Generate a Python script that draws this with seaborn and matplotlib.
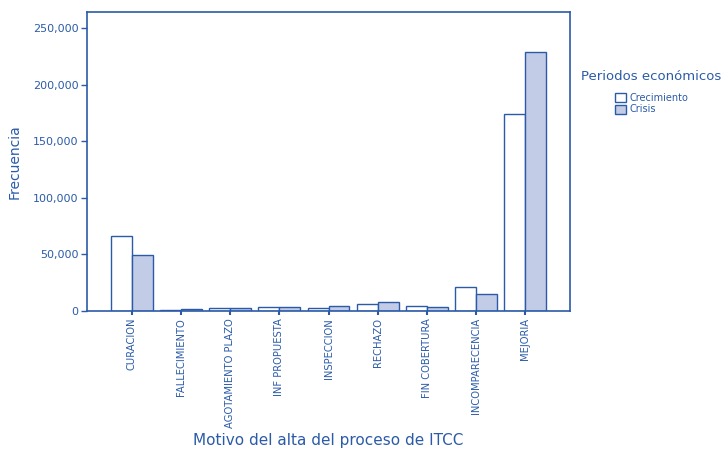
import pandas as pd
import numpy as np
import seaborn as sns
import matplotlib.pyplot as plt

# Data
motivos = ['CURACION', 'FALLECIMIENTO', 'AGOTAMIENTO PLAZO', 'INF PROPUESTA',
           'INSPECCION', 'RECHAZO', 'FIN COBERTURA', 'INCOMPARECENCIA', 'MEJORIA']
periodos = ['Crecimiento', 'Crisis']
crecimiento = [66000, 1000, 2600, 3500, 2400, 5900, 4700, 21300, 173700]
crisis = [49400, 1500, 2600, 3500, 4700, 7900, 3200, 14900, 229000]

blue = '#2b5ba8'
fills = ['#ffffff', '#c3cce6']

sns.set_theme(style='white')
plt.rcParams['font.family'] = ['DejaVu Sans']
plt.rcParams.update({
    'text.color': blue,
    'axes.labelcolor': blue,
    'xtick.color': blue,
    'ytick.color': blue,
    'axes.edgecolor': blue,
})

df = pd.DataFrame({
    'Motivo': motivos * 2,
    'Periodo': [periodos[0]] * len(motivos) + [periodos[1]] * len(motivos),
    'Frecuencia': crecimiento + crisis,
})

fig = plt.figure(figsize=(7.28, 4.5), dpi=100)
ax = fig.add_axes([0.1195, 0.309, 0.6635, 0.664])

sns.barplot(data=df, x='Motivo', y='Frecuencia', hue='Periodo',
            order=motivos, hue_order=periodos, palette=fills, saturation=1,
            edgecolor=blue, linewidth=1.0, width=0.85, ax=ax)

ax.set_xlim(-0.91, 8.91)
ax.set_ylim(0, 264000)
ax.set_yticks([0, 50000, 100000, 150000, 200000, 250000])
ax.set_yticklabels([f'{v:,}' for v in [0, 50000, 100000, 150000, 200000, 250000]],
                   fontsize=8)
ax.set_xticks(range(len(motivos)))
ax.set_xticklabels(motivos, rotation=90, fontsize=7.2)
ax.tick_params(axis='y', length=4, width=1, direction='out', left=True, pad=2)
ax.tick_params(axis='x', length=3, width=1.5, direction='out', bottom=True, pad=2)

for sp in ax.spines.values():
    sp.set_visible(True)
    sp.set_color(blue)
    sp.set_linewidth(1.2)

ax.set_ylabel('Frecuencia', fontsize=10, labelpad=8)
ax.set_xlabel('Motivo del alta del proceso de ITCC', fontsize=11)
ax.xaxis.set_label_coords(0.5, -0.41)

leg = ax.legend(title='Periodos económicos', loc='upper left',
                bbox_to_anchor=(1.015, 0.82), frameon=False, fontsize=7,
                title_fontsize=9.5, handlelength=1.2, handleheight=1.0,
                borderaxespad=0, labelspacing=0.2, handletextpad=0.3)
leg._legend_box.sep = 7
for t in leg.get_texts():
    t.set_color(blue)
leg.get_title().set_color(blue)

fig.savefig('out.png', dpi=100, facecolor='white')
